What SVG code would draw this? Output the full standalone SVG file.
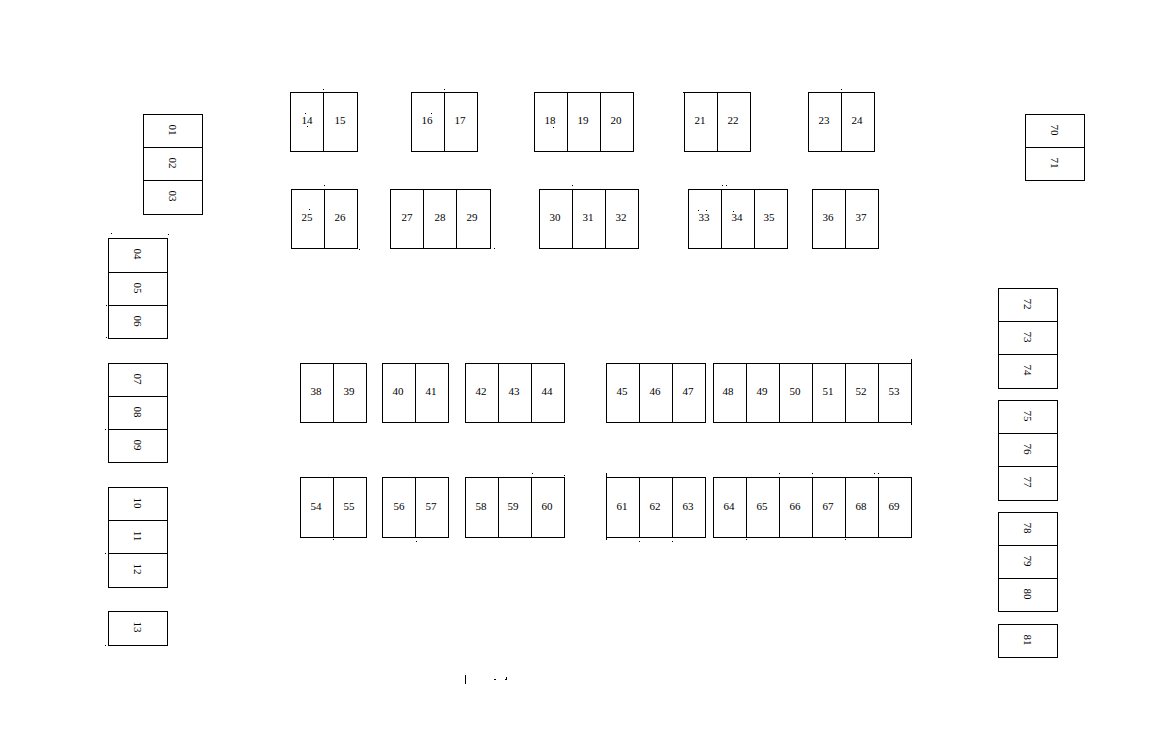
<svg xmlns="http://www.w3.org/2000/svg" width="1162" height="729" viewBox="0 0 1162 729">
<style>
rect{fill:#fff;stroke:#000;stroke-width:1;shape-rendering:crispEdges}
text{font-family:"Liberation Serif","Times New Roman",serif;font-size:11px;fill:#000;text-anchor:middle;dominant-baseline:central}
.s{fill:none;stroke:#000;stroke-width:1;shape-rendering:crispEdges}
</style>
<rect x="-1" y="-1" width="1164" height="731" style="stroke:none"/>
<g id="n01"><rect x="143.500" y="114.500" width="59" height="33"/><text transform="rotate(90 173 130)" x="173" y="130">01</text></g>
<g id="n02"><rect x="143.500" y="147.500" width="59" height="33"/><text transform="rotate(90 173 163)" x="173" y="163">02</text></g>
<g id="n03"><rect x="143.500" y="180.500" width="59" height="34"/><text transform="rotate(90 173 196)" x="173" y="196">03</text></g>
<g id="n04"><rect x="108.500" y="238.500" width="59" height="34"/><text transform="rotate(90 138 254)" x="138" y="254">04</text></g>
<g id="n05"><rect x="108.500" y="272.500" width="59" height="33"/><text transform="rotate(90 138 288)" x="138" y="288">05</text></g>
<g id="n06"><rect x="108.500" y="305.500" width="59" height="33"/><text transform="rotate(90 138 321)" x="138" y="321">06</text></g>
<g id="n07"><rect x="108.500" y="363.500" width="59" height="33"/><text transform="rotate(90 138 379)" x="138" y="379">07</text></g>
<g id="n08"><rect x="108.500" y="396.500" width="59" height="33"/><text transform="rotate(90 138 412)" x="138" y="412">08</text></g>
<g id="n09"><rect x="108.500" y="429.500" width="59" height="33"/><text transform="rotate(90 138 445)" x="138" y="445">09</text></g>
<g id="n10"><rect x="108.500" y="487.500" width="59" height="33"/><text transform="rotate(90 138 503)" x="138" y="503">10</text></g>
<g id="n11"><rect x="108.500" y="520.500" width="59" height="33"/><text transform="rotate(90 138 536)" x="138" y="536">11</text></g>
<g id="n12"><rect x="108.500" y="553.500" width="59" height="34"/><text transform="rotate(90 138 569)" x="138" y="569">12</text></g>
<g id="n13"><rect x="108.500" y="611.500" width="59" height="34"/><text transform="rotate(90 138 627)" x="138" y="627">13</text></g>
<g id="n14"><rect x="290.500" y="92.500" width="33" height="59"/><text x="307" y="120">14</text></g>
<g id="n15"><rect x="323.500" y="92.500" width="34" height="59"/><text x="340" y="120">15</text></g>
<g id="n16"><rect x="411.500" y="92.500" width="33" height="59"/><text x="427" y="120">16</text></g>
<g id="n17"><rect x="444.500" y="92.500" width="33" height="59"/><text x="460" y="120">17</text></g>
<g id="n18"><rect x="534.500" y="92.500" width="33" height="59"/><text x="550" y="120">18</text></g>
<g id="n19"><rect x="567.500" y="92.500" width="33" height="59"/><text x="583" y="120">19</text></g>
<g id="n20"><rect x="600.500" y="92.500" width="33" height="59"/><text x="616" y="120">20</text></g>
<g id="n21"><rect x="684.500" y="92.500" width="33" height="59"/><text x="700" y="120">21</text></g>
<g id="n22"><rect x="717.500" y="92.500" width="33" height="59"/><text x="733" y="120">22</text></g>
<g id="n23"><rect x="808.500" y="92.500" width="33" height="59"/><text x="824" y="120">23</text></g>
<g id="n24"><rect x="841.500" y="92.500" width="33" height="59"/><text x="857" y="120">24</text></g>
<g id="n25"><rect x="291.500" y="189.500" width="33" height="59"/><text x="307" y="217">25</text></g>
<g id="n26"><rect x="324.500" y="189.500" width="33" height="59"/><text x="340" y="217">26</text></g>
<g id="n27"><rect x="390.500" y="189.500" width="33" height="59"/><text x="407" y="217">27</text></g>
<g id="n28"><rect x="423.500" y="189.500" width="33" height="59"/><text x="440" y="217">28</text></g>
<g id="n29"><rect x="456.500" y="189.500" width="34" height="59"/><text x="472" y="217">29</text></g>
<g id="n30"><rect x="539.500" y="189.500" width="33" height="59"/><text x="555" y="217">30</text></g>
<g id="n31"><rect x="572.500" y="189.500" width="33" height="59"/><text x="588" y="217">31</text></g>
<g id="n32"><rect x="605.500" y="189.500" width="33" height="59"/><text x="621" y="217">32</text></g>
<g id="n33"><rect x="688.500" y="189.500" width="33" height="59"/><text x="704" y="217">33</text></g>
<g id="n34"><rect x="721.500" y="189.500" width="33" height="59"/><text x="737" y="217">34</text></g>
<g id="n35"><rect x="754.500" y="189.500" width="33" height="59"/><text x="769" y="217">35</text></g>
<g id="n36"><rect x="812.500" y="189.500" width="33" height="59"/><text x="828" y="217">36</text></g>
<g id="n37"><rect x="845.500" y="189.500" width="33" height="59"/><text x="861" y="217">37</text></g>
<g id="n38"><rect x="300.500" y="363.500" width="33" height="59"/><text x="316" y="391">38</text></g>
<g id="n39"><rect x="333.500" y="363.500" width="33" height="59"/><text x="349" y="391">39</text></g>
<g id="n40"><rect x="382.500" y="363.500" width="33" height="59"/><text x="398" y="391">40</text></g>
<g id="n41"><rect x="415.500" y="363.500" width="33" height="59"/><text x="431" y="391">41</text></g>
<g id="n42"><rect x="465.500" y="363.500" width="33" height="59"/><text x="481" y="391">42</text></g>
<g id="n43"><rect x="498.500" y="363.500" width="33" height="59"/><text x="514" y="391">43</text></g>
<g id="n44"><rect x="531.500" y="363.500" width="33" height="59"/><text x="547" y="391">44</text></g>
<g id="n45"><rect x="606.500" y="363.500" width="33" height="59"/><text x="622" y="391">45</text></g>
<g id="n46"><rect x="639.500" y="363.500" width="33" height="59"/><text x="655" y="391">46</text></g>
<g id="n47"><rect x="672.500" y="363.500" width="33" height="59"/><text x="688" y="391">47</text></g>
<g id="n48"><rect x="713.500" y="363.500" width="33" height="59"/><text x="728" y="391">48</text></g>
<g id="n49"><rect x="746.500" y="363.500" width="33" height="59"/><text x="762" y="391">49</text></g>
<g id="n50"><rect x="779.500" y="363.500" width="33" height="59"/><text x="795" y="391">50</text></g>
<g id="n51"><rect x="812.500" y="363.500" width="33" height="59"/><text x="828" y="391">51</text></g>
<g id="n52"><rect x="845.500" y="363.500" width="33" height="59"/><text x="861" y="391">52</text></g>
<g id="n53"><rect x="878.500" y="363.500" width="33" height="59"/><text x="894" y="391">53</text></g>
<g id="n54"><rect x="300.500" y="477.500" width="33" height="60"/><text x="316" y="506">54</text></g>
<g id="n55"><rect x="333.500" y="477.500" width="33" height="60"/><text x="349" y="506">55</text></g>
<g id="n56"><rect x="382.500" y="477.500" width="33" height="60"/><text x="399" y="506">56</text></g>
<g id="n57"><rect x="415.500" y="477.500" width="33" height="60"/><text x="431" y="506">57</text></g>
<g id="n58"><rect x="465.500" y="477.500" width="33" height="60"/><text x="481" y="506">58</text></g>
<g id="n59"><rect x="498.500" y="477.500" width="33" height="60"/><text x="513" y="506">59</text></g>
<g id="n60"><rect x="531.500" y="477.500" width="33" height="60"/><text x="547" y="506">60</text></g>
<g id="n61"><rect x="606.500" y="477.500" width="33" height="60"/><text x="622" y="506">61</text></g>
<g id="n62"><rect x="639.500" y="477.500" width="33" height="60"/><text x="655" y="506">62</text></g>
<g id="n63"><rect x="672.500" y="477.500" width="33" height="60"/><text x="688" y="506">63</text></g>
<g id="n64"><rect x="713.500" y="477.500" width="33" height="60"/><text x="729" y="506">64</text></g>
<g id="n65"><rect x="746.500" y="477.500" width="33" height="60"/><text x="762" y="506">65</text></g>
<g id="n66"><rect x="779.500" y="477.500" width="33" height="60"/><text x="795" y="506">66</text></g>
<g id="n67"><rect x="812.500" y="477.500" width="33" height="60"/><text x="828" y="506">67</text></g>
<g id="n68"><rect x="845.500" y="477.500" width="33" height="60"/><text x="861" y="506">68</text></g>
<g id="n69"><rect x="878.500" y="477.500" width="33" height="60"/><text x="894" y="506">69</text></g>
<g id="n70"><rect x="1025.500" y="114.500" width="59" height="33"/><text transform="rotate(90 1055 130)" x="1055" y="130">70</text></g>
<g id="n71"><rect x="1025.500" y="147.500" width="59" height="33"/><text transform="rotate(90 1055 163)" x="1055" y="163">71</text></g>
<g id="n72"><rect x="998.500" y="288.500" width="59" height="33"/><text transform="rotate(90 1028 304)" x="1028" y="304">72</text></g>
<g id="n73"><rect x="998.500" y="321.500" width="59" height="33"/><text transform="rotate(90 1028 337)" x="1028" y="337">73</text></g>
<g id="n74"><rect x="998.500" y="354.500" width="59" height="34"/><text transform="rotate(90 1028 370)" x="1028" y="370">74</text></g>
<g id="n75"><rect x="998.500" y="400.500" width="59" height="33"/><text transform="rotate(90 1028 416)" x="1028" y="416">75</text></g>
<g id="n76"><rect x="998.500" y="433.500" width="59" height="33"/><text transform="rotate(90 1028 449)" x="1028" y="449">76</text></g>
<g id="n77"><rect x="998.500" y="466.500" width="59" height="34"/><text transform="rotate(90 1028 482)" x="1028" y="482">77</text></g>
<g id="n78"><rect x="998.500" y="512.500" width="59" height="33"/><text transform="rotate(90 1028 528)" x="1028" y="528">78</text></g>
<g id="n79"><rect x="998.500" y="545.500" width="59" height="33"/><text transform="rotate(90 1028 561)" x="1028" y="561">79</text></g>
<g id="n80"><rect x="998.500" y="578.500" width="59" height="33"/><text transform="rotate(90 1028 594)" x="1028" y="594">80</text></g>
<g id="n81"><rect x="998.500" y="624.500" width="59" height="33"/><text transform="rotate(90 1028 640)" x="1028" y="640">81</text></g>
<g id="connectors"></g>
<g id="marks"><path class="s" d="M465.500 675v9M494 679.500h2M505 679.500h2M506.500 677v2M911.500 359v5M911.500 422v3M606.500 473v5M606.500 537v3M323 89.500h1M305 113.500h1M307 126.500h1M324 185.500h1M309 209.500h1M359 249.500h1M111 233.500h1M168 234.500h1M106 305.500h1M106 337.500h1M779 473.500h1M812 473.500h1M874 473.500h1M878 473.500h1M639 541.500h1M672 541.500h1M746 539.500h1M845 539.500h1M431 113.500h1M444 89.500h1M553 127.500h1M683 92.500h1M841 89.500h1M572 185.500h1M722 185.500h1M726 185.500h1M698 210.500h1M706 210.500h1M733 211.500h1M494 248.500h1M532 473.500h1M564 475.500h1M416 541.500h1M333 539.500h1M105 429.500h1M105 553.500h1M105 645.500h1"/></g>
</svg>
